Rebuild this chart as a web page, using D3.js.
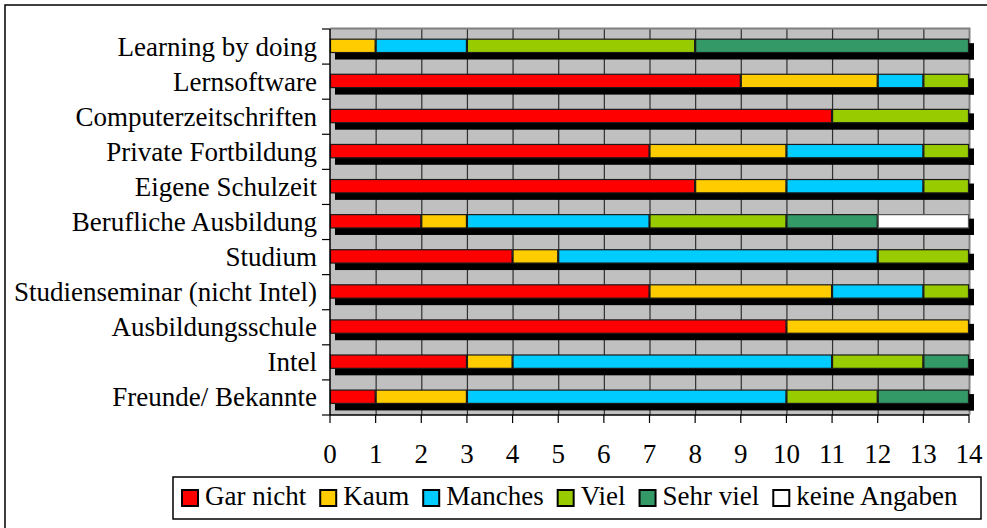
<!DOCTYPE html>
<html><head><meta charset="utf-8">
<script src="https://cdn.jsdelivr.net/npm/d3@7"></script>
<style>
@font-face{font-family:"RefSerif";src:local("Liberation Serif"),local("LiberationSerif"),local("Liberation Serif Regular"),local("Times New Roman");}
body{margin:0;background:#fff}
svg text{font-family:"Liberation Serif","RefSerif",serif;font-size:27px;fill:#000}
</style>
</head><body><svg id="c" width="987" height="528"></svg>
<script>
const categories = ["Learning by doing","Lernsoftware","Computerzeitschriften","Private Fortbildung","Eigene Schulzeit","Berufliche Ausbildung","Studium","Studienseminar (nicht Intel)","Ausbildungsschule","Intel","Freunde/ Bekannte"];
const seriesNames = ["Gar nicht","Kaum","Manches","Viel","Sehr viel","keine Angaben"];
const seriesColors = ["#ff0000","#ffcc00","#00ccff","#99cc00","#339966","#ffffff"];
const garNicht   = [0, 9, 11, 7, 8, 2, 4, 7, 10, 3, 1];
const kaum       = [1, 3, 0, 3, 2, 1, 1, 4, 4, 1, 2];
const manches    = [2, 1, 0, 3, 3, 4, 7, 2, 0, 7, 7];
const viel       = [5, 1, 3, 1, 1, 3, 2, 1, 0, 2, 2];
const sehrViel   = [6, 0, 0, 0, 0, 2, 0, 0, 0, 1, 2];
const keineAngab = [0, 0, 0, 0, 0, 2, 0, 0, 0, 0, 0];
const xTicks = [0,1,2,3,4,5,6,7,8,9,10,11,12,13,14];

const seriesValues = [garNicht,kaum,manches,viel,sehrViel,keineAngab];
const rows = categories.map((c,i)=>{const o={cat:c}; seriesNames.forEach((s,j)=>o[s]=seriesValues[j][i]); return o;});
const stack = d3.stack().keys(seriesNames)(rows);

const svg = d3.select("#c");
const L=330, R=969, T=29, B=415;
const x = d3.scaleLinear().domain([0,14]).range([L,R]);
const y = d3.scaleBand().domain(categories).range([T,B]).padding(0);
const bw = y.bandwidth();
const barOff = bw*0.29, barH = bw*0.38;

svg.append("rect").attr("x",5).attr("y",5).attr("width",1000).attr("height",540).attr("fill","none").attr("stroke","#000").attr("stroke-width",1.5);

svg.append("rect").attr("x",L).attr("y",T).attr("width",R-L).attr("height",B-T).attr("fill","#c0c0c0");
svg.append("g").selectAll("line").data(xTicks.slice(1,-1)).join("line")
  .attr("x1",d=>x(d)+0.5).attr("x2",d=>x(d)+0.5).attr("y1",T).attr("y2",B).attr("stroke","#303030").attr("stroke-width",1.2);
svg.append("path").attr("d",`M${L},${T-0.5}H${R+0.5}V${B}`).attr("fill","none").attr("stroke","#808080").attr("stroke-width",2);

svg.append("g").selectAll("rect").data(rows).join("rect")
  .attr("x",x(0)+5).attr("y",d=>y(d.cat)+barOff+7).attr("width",d=>x(14)-x(0)).attr("height",barH).attr("fill","#000");
svg.append("g").selectAll("rect").data(rows).join("rect")
  .attr("x",d=>x(14)).attr("y",d=>y(d.cat)+barOff+4).attr("width",5).attr("height",barH+3).attr("fill","#000");

const g = svg.append("g");
stack.forEach((s,j)=>{
  g.append("g").selectAll("rect").data(s.filter(d=>d[1]-d[0]>0)).join("rect")
   .attr("x",d=>x(d[0])+0.5).attr("y",d=>y(d.data.cat)+barOff).attr("width",d=>x(d[1])-x(d[0])-1).attr("height",barH)
   .attr("fill",seriesColors[j]).attr("stroke",j===5?"#555":"#1a1a1a").attr("stroke-width",1.2);
});

const ya = svg.append("g");
ya.append("line").attr("x1",L).attr("x2",L).attr("y1",T).attr("y2",B).attr("stroke","#000").attr("stroke-width",1.5);
ya.selectAll("line.t").data(categories.concat([null])).join("line").attr("class","t")
  .attr("x1",L-8).attr("x2",L).attr("y1",(d,i)=>T+i*bw).attr("y2",(d,i)=>T+i*bw).attr("stroke","#000").attr("stroke-width",1.2);
ya.selectAll("text").data(categories).join("text")
  .attr("x",L-13).attr("y",d=>y(d)+bw/2+9).attr("text-anchor","end").text(d=>d);

const xa = svg.append("g");
xa.append("line").attr("x1",L).attr("x2",R).attr("y1",B).attr("y2",B).attr("stroke","#000").attr("stroke-width",1.5);
xa.selectAll("line.t").data(xTicks).join("line").attr("class","t")
  .attr("x1",d=>x(d)).attr("x2",d=>x(d)).attr("y1",B).attr("y2",B+8).attr("stroke","#000").attr("stroke-width",1.2);
xa.selectAll("text").data(xTicks).join("text")
  .attr("x",d=>x(d)).attr("y",463).attr("text-anchor","middle").text(d=>d);

svg.append("rect").attr("x",173).attr("y",477).attr("width",808).attr("height",42).attr("fill","#fff").attr("stroke","#000").attr("stroke-width",1.5);
let lx = 182;
seriesNames.forEach((s,j)=>{
  svg.append("rect").attr("x",lx).attr("y",490).attr("width",16).attr("height",16).attr("fill",seriesColors[j]).attr("stroke","#000").attr("stroke-width",2);
  const t = svg.append("text").attr("x",lx+23).attr("y",505).text(s);
  lx += 23 + t.node().getComputedTextLength() + 14;
});
</script></body></html>
